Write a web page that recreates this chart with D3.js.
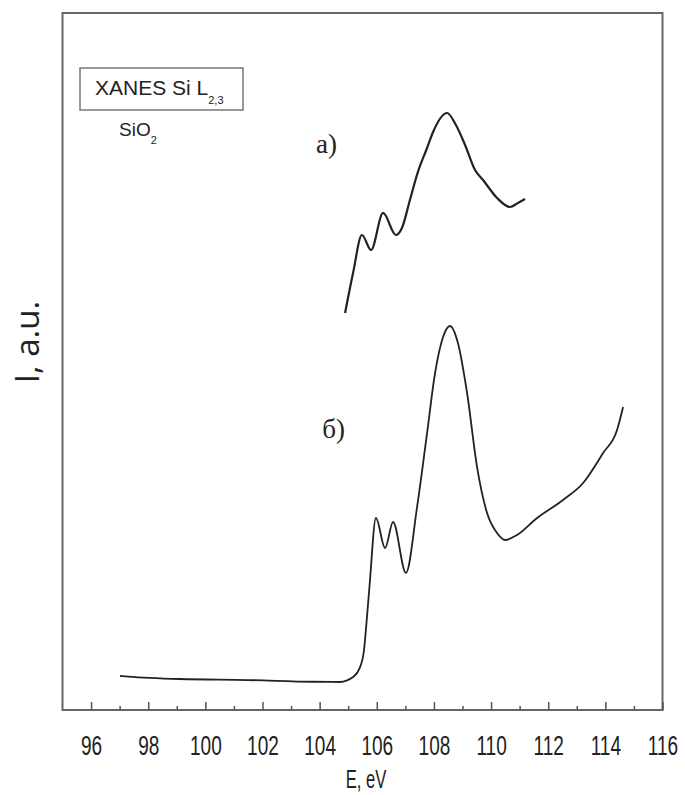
<!DOCTYPE html>
<html><head><meta charset="utf-8">
<script src="https://cdn.jsdelivr.net/npm/d3@7"></script>
<style>body{margin:0;background:#fff}svg{display:block}</style>
</head><body>
<script>
// Energy (eV) and intensity (a.u.)
const curveA_E = [104.89,105.17,105.48,105.80,106.22,106.67,106.88,107.16,107.44,107.76,107.97,108.46,108.77,109.09,109.44,109.72,110.21,110.66,110.94,111.19];
const curveA_I = [56.96,62.70,68.15,66.00,71.31,68.15,69.15,73.17,77.20,80.63,82.93,85.65,83.93,81.06,77.47,76.04,73.46,72.17,72.74,73.31];
const curveB_E = [97.01,97.3,99.11,101.46,103.77,104.71,105.17,105.40,105.55,105.65,105.75,105.97,106.29,106.57,107.02,107.41,107.76,108.04,108.32,108.56,108.84,109.16,109.51,109.86,110.21,110.49,110.91,111.61,112.52,113.22,113.92,114.41,114.62];
const curveB_I = [4.9,4.8,4.45,4.30,4.05,4.02,4.73,6.00,8.50,13.00,18.00,27.55,23.24,26.97,19.66,29.12,39.74,48.35,53.51,55.09,52.65,45.48,34.86,28.26,25.39,24.39,25.11,27.55,30.13,32.57,36.87,40.17,43.47];
const majorTicks = [96,98,100,102,104,106,108,110,112,114,116];
const minorTicks = [97,99,101,103,105,107,109,111,113,115];
const xDomain = [95,116];
const yDomain = [0,100];

const W = 685, H = 795;
const L = 62.5, R = 662.5, T = 13, B = 710;
const svg = d3.select("body").append("svg").attr("width",W).attr("height",H);
const x = d3.scaleLinear().domain(xDomain).range([L,R]);
const y = d3.scaleLinear().domain(yDomain).range([B,T]);

// frame
svg.append("rect").attr("x",L).attr("y",T).attr("width",R-L).attr("height",B-T)
  .attr("fill","none").attr("stroke","#666").attr("stroke-width",2);

// ticks (inward)
const ax = svg.append("g").attr("transform",`translate(0,${B})`)
  .call(d3.axisBottom(x).tickValues(majorTicks).tickSizeInner(-8).tickSizeOuter(0).tickPadding(25).tickFormat(d3.format("d")));
ax.select(".domain").remove();
ax.selectAll(".tick line").attr("stroke","#555").attr("stroke-width",1.5);
ax.selectAll(".tick text").attr("font-family","Liberation Sans, Arial, sans-serif")
  .attr("font-size",28).attr("fill","#222").attr("transform","scale(0.68,1)");
const axm = svg.append("g").attr("transform",`translate(0,${B})`)
  .call(d3.axisBottom(x).tickValues(minorTicks).tickSizeInner(-4).tickSizeOuter(0).tickFormat(""));
axm.select(".domain").remove();
axm.selectAll(".tick line").attr("stroke","#555").attr("stroke-width",1.5);

// axis titles
svg.append("text").attr("transform",`translate(366,788) scale(0.64,1)`).attr("text-anchor","middle")
  .attr("font-family","Liberation Sans, Arial, sans-serif").attr("font-size",26).attr("fill","#222").text("E, eV");
svg.append("text").attr("transform","translate(39,342) rotate(-90)").attr("text-anchor","middle")
  .attr("font-family","Open Sans, Liberation Sans, sans-serif").attr("font-size",33).attr("fill","#222").text("I, a.u.");

// curves
const line = d3.line().x(d=>x(d[0])).y(d=>y(d[1])).curve(d3.curveMonotoneX);
const dataA = curveA_E.map((e,i)=>[e,curveA_I[i]]);
const dataB = curveB_E.map((e,i)=>[e,curveB_I[i]]);
svg.append("path").datum(dataA).attr("d",line).attr("fill","none").attr("stroke","#222").attr("stroke-width",2.2);
svg.append("path").datum(dataB).attr("d",line).attr("fill","none").attr("stroke","#222").attr("stroke-width",1.8);

// legend box
svg.append("rect").attr("x",80).attr("y",68).attr("width",163).attr("height",42)
  .attr("fill","none").attr("stroke","#777").attr("stroke-width",1.5);
const lt = svg.append("text").attr("x",95).attr("y",95).attr("font-family","Liberation Sans, Arial, sans-serif")
  .attr("font-size",21).attr("fill","#222");
lt.append("tspan").text("XANES Si L");
lt.append("tspan").attr("font-size",11).attr("dy",9).text("2,3");
const st = svg.append("text").attr("x",119).attr("y",136).attr("font-family","Liberation Sans, Arial, sans-serif")
  .attr("font-size",19).attr("fill","#222");
st.append("tspan").text("SiO");
st.append("tspan").attr("font-size",11).attr("dy",8).text("2");

// curve labels
svg.append("text").attr("x",337).attr("y",153).attr("text-anchor","end").attr("font-family","Liberation Serif, Times New Roman, serif")
  .attr("font-size",27).attr("fill","#222").text("a)");
svg.append("text").attr("x",345).attr("y",438).attr("text-anchor","end").attr("font-family","Liberation Serif, Times New Roman, serif")
  .attr("font-size",27).attr("fill","#222").text("б)");
</script>
</body></html>
